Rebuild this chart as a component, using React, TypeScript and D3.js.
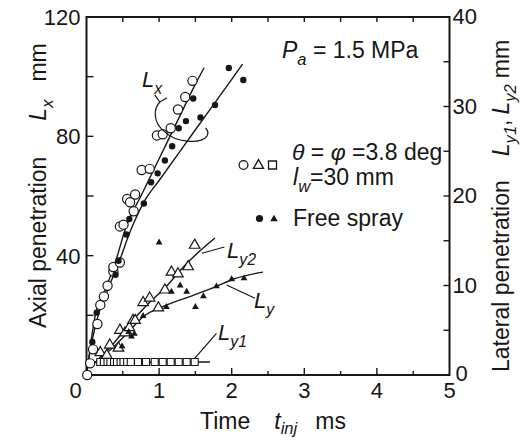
import React, { useEffect, useRef } from 'react';
import * as d3 from 'd3';

// Lx with wall (open circles): injection time ms / axial penetration mm
const wallLxT = [0.01, 0.05, 0.09, 0.15, 0.19, 0.24, 0.29, 0.37, 0.37, 0.46, 0.46, 0.51, 0.56, 0.6, 0.65, 0.67, 0.76, 0.87, 0.97, 1.05, 1.16, 1.26, 1.36, 1.46];
const wallLxV = [0, 3.9, 8.6, 17.1, 23.5, 26.3, 29.9, 34.7, 36.2, 37.7, 49.8, 50.4, 59, 57.9, 54.9, 60.5, 68.7, 69.1, 80.3, 80.7, 82.7, 89, 93.2, 98.6];

// Lx free spray (filled circles)
const freeLxT = [0.08, 0.14, 0.4, 0.44, 0.55, 0.59, 0.79, 0.89, 0.98, 1.08, 1.18, 1.27, 1.37, 1.47, 1.57, 1.77, 1.96, 2.16];
const freeLxV = [11.1, 20.9, 33.6, 38.3, 47.1, 52.3, 57.5, 64.6, 67.6, 71.9, 76.7, 82.7, 85.1, 92.7, 86.3, 90.5, 102.9, 98.9];

// Ly2 with wall (open triangles), lateral mm
const ly2T = [0.19, 0.28, 0.32, 0.44, 0.46, 0.53, 0.59, 0.64, 0.67, 0.78, 0.87, 0.99, 1.08, 1.17, 1.26, 1.4, 1.49];
const ly2V = [2.5, 2.2, 3.35, 3.0, 5.0, 4.7, 5.3, 6.1, 6.1, 8.1, 8.6, 7.5, 9.5, 11.5, 11.3, 12.1, 14.5];

// Ly free spray (filled triangles)
const lyT = [0.49, 0.58, 0.62, 0.66, 0.78, 1.0, 1.1, 1.17, 1.29, 1.38, 1.5, 1.61, 1.79, 2.0, 2.17];
const lyV = [3.2, 4.8, 4.3, 4.6, 6.6, 14.8, 7.6, 9.3, 10.0, 9.3, 7.6, 8.8, 9.9, 10.7, 10.8];

// Ly1 with wall (open squares)
const ly1T = [0.19, 0.24, 0.29, 0.33, 0.38, 0.42, 0.47, 0.51, 0.56, 0.61, 0.71, 0.82, 0.94, 1.05, 1.16, 1.27, 1.38, 1.49];
const ly1V = [1.45, 1.45, 1.45, 1.45, 1.45, 1.45, 1.45, 1.45, 1.45, 1.45, 1.45, 1.45, 1.45, 1.45, 1.45, 1.45, 1.45, 1.45];

// fitted curves [t, value]
const wallLxCurve = [[0, 0], [0.05, 9], [0.12, 20], [0.25, 28], [0.4, 38], [0.55, 50], [0.75, 60], [1.0, 72.5], [1.25, 85], [1.5, 97.5], [1.62, 103]];
const freeLxCurve = [[0, 0], [0.05, 8], [0.15, 19], [0.3, 29], [0.45, 38], [0.6, 48], [0.81, 58.8], [1.0, 65.2], [1.5, 82.2], [2.0, 99.1], [2.15, 104.2]];
const ly2Curve = [[0.12, 1.4], [0.24, 2.4], [0.37, 3.5], [0.56, 5.4], [0.83, 7.8], [1.1, 9.9], [1.36, 12.3], [1.77, 15.3]];
const lyCurve = [[0.12, 1.4], [0.42, 3.5], [0.6, 5.0], [0.78, 6.5], [1.1, 7.8], [1.47, 8.9], [1.79, 9.9], [2.02, 10.7], [2.43, 11.5]];
const ly1Curve = [[0.1, 1.45], [1.7, 1.45]];

const xTicks = [0, 1, 2, 3, 4, 5];
const leftTicks = [40, 80, 120];
const rightTicks = [10, 20, 30, 40];

type Part = { s: string; it?: boolean; sub?: boolean; dx?: number };

function App() {
    const svgRef = useRef<SVGSVGElement>(null);

    useEffect(() => {
        const svg = d3.select(svgRef.current);
        svg.selectAll('*').remove();

        const x = d3.scaleLinear().domain([0, 5]).range([86.5, 449.5]);
        const yL = d3.scaleLinear().domain([0, 120]).range([375, 17]);
        const yR = d3.scaleLinear().domain([0, 40]).range([375, 17]);
        const ink = '#161616';

        // text with italic / subscript pieces
        const rich = (px: number, py: number, parts: Part[], size: number, rotate = 0, subShift = 0.3) => {
            const t = svg.append('text')
                .attr('x', px).attr('y', py)
                .attr('font-size', size).attr('fill', ink);
            if (rotate) t.attr('transform', `rotate(${rotate},${px},${py})`);
            let shift = 0;
            parts.forEach(p => {
                const ts = t.append('tspan').text(p.s);
                const target = p.sub ? size * subShift : 0;
                if (target !== shift) { ts.attr('dy', target - shift); shift = target; }
                if (p.dx) ts.attr('dx', p.dx);
                if (p.sub) ts.attr('font-size', size * 0.72);
                if (p.it) ts.attr('font-style', 'italic');
            });
            return t;
        };

        // frame
        svg.append('rect')
            .attr('x', x(0)).attr('y', yL(120))
            .attr('width', x(5) - x(0)).attr('height', yL(0) - yL(120))
            .attr('fill', 'none').attr('stroke', ink).attr('stroke-width', 2);

        // ticks, all pointing inward
        const tk = svg.append('g').attr('stroke', ink).attr('stroke-width', 1.4);
        d3.range(0.5, 5, 0.5).forEach(t => {
            const major = Number.isInteger(t);
            tk.append('line').attr('x1', x(t)).attr('x2', x(t))
                .attr('y1', yL(0)).attr('y2', yL(0) - (major ? 7 : 4));
            tk.append('line').attr('x1', x(t)).attr('x2', x(t))
                .attr('y1', yL(120)).attr('y2', yL(120) + 5);
        });
        d3.range(20, 120, 20).forEach(v => {
            tk.append('line').attr('x1', x(0)).attr('x2', x(0) + 7).attr('y1', yL(v)).attr('y2', yL(v));
        });
        d3.range(5, 40, 5).forEach(v => {
            tk.append('line').attr('x1', x(5)).attr('x2', x(5) - 6).attr('y1', yR(v)).attr('y2', yR(v));
        });

        // tick labels
        const lab = svg.append('g').attr('font-size', 22).attr('fill', ink);
        xTicks.filter(t => t > 0).forEach(t => {
            lab.append('text').attr('x', x(t)).attr('y', yL(0) + 23).attr('text-anchor', 'middle').text(t);
        });
        lab.append('text').attr('x', x(0) - 11).attr('y', yL(0) + 23).attr('text-anchor', 'middle').text('0');
        leftTicks.forEach(v => {
            lab.append('text').attr('x', x(0) - 6).attr('y', yL(v) + 8).attr('text-anchor', 'end').text(v);
        });
        rightTicks.forEach(v => {
            lab.append('text').attr('x', x(5) + 3).attr('y', yR(v) + 7).text(v);
        });
        lab.append('text').attr('x', x(5) + 6).attr('y', yR(0) + 6).text('0');

        // axis titles
        rich(46, 328, [{ s: 'Axial penetration' }, { s: 'L', it: true, dx: 36 }, { s: 'x', it: true, sub: true }, { s: 'mm', dx: 18 }], 23, -90);
        rich(509, 372, [{ s: 'Lateral penetration' }, { s: 'L', it: true, dx: 24 }, { s: 'y1', it: true, sub: true }, { s: ',' }, { s: 'L', it: true, dx: 5 }, { s: 'y2', it: true, sub: true }, { s: 'mm', dx: 6 }], 23, -90);
        rich(200, 429, [{ s: 'Time' }, { s: 't', it: true, dx: 24 }, { s: 'inj', it: true, sub: true }, { s: 'ms', dx: 18 }], 23, 0, 0.22);

        // curves
        const lineL = d3.line<number[]>().x(d => x(d[0])).y(d => yL(d[1])).curve(d3.curveMonotoneX);
        const lineR = d3.line<number[]>().x(d => x(d[0])).y(d => yR(d[1])).curve(d3.curveMonotoneX);
        const curves = svg.append('g').attr('fill', 'none').attr('stroke', ink).attr('stroke-width', 1.4);
        curves.append('path').attr('d', lineL(wallLxCurve));
        curves.append('path').attr('d', lineL(freeLxCurve));
        curves.append('path').attr('d', lineR(ly2Curve));
        curves.append('path').attr('d', lineR(lyCurve));
        curves.append('path').attr('d', lineR(ly1Curve));

        // markers
        const sym = (type: d3.SymbolType, size: number) => d3.symbol().type(type).size(size)();
        const marks = svg.append('g');
        marks.selectAll('.sq').data(ly1T).enter().append('path')
            .attr('d', sym(d3.symbolSquare, 50))
            .attr('transform', (d, i) => `translate(${x(d)},${yR(ly1V[i])})`)
            .attr('fill', '#fff').attr('stroke', ink).attr('stroke-width', 1.1);
        marks.selectAll('.otri').data(ly2T).enter().append('path')
            .attr('d', sym(d3.symbolTriangle, 48))
            .attr('transform', (d, i) => `translate(${x(d)},${yR(ly2V[i])})`)
            .attr('fill', '#fff').attr('stroke', ink).attr('stroke-width', 1.2);
        marks.selectAll('.ftri').data(lyT).enter().append('path')
            .attr('d', sym(d3.symbolTriangle, 20))
            .attr('transform', (d, i) => `translate(${x(d)},${yR(lyV[i])})`)
            .attr('fill', ink);
        marks.selectAll('.ocir').data(wallLxT).enter().append('circle')
            .attr('cx', d => x(d)).attr('cy', (d, i) => yL(wallLxV[i])).attr('r', 4.6)
            .attr('fill', '#fff').attr('stroke', ink).attr('stroke-width', 1.2);
        marks.selectAll('.fcir').data(freeLxT).enter().append('circle')
            .attr('cx', d => x(d)).attr('cy', (d, i) => yL(freeLxV[i])).attr('r', 3.2)
            .attr('fill', ink);

        // annotations: leader lines in data units
        const ann = svg.append('g').attr('fill', 'none').attr('stroke', ink).attr('stroke-width', 1.2);
        const pL = (t: number, v: number) => `${x(t)},${yL(v)}`;
        const pR = (t: number, v: number) => `${x(t)},${yR(v)}`;
        ann.append('path').attr('d', `M${pR(1.9, 14.3)}L${pR(1.59, 13.6)}`);
        ann.append('path').attr('d', `M${pR(1.93, 10.06)}L${pR(2.32, 8.57)}`);
        ann.append('path').attr('d', `M${pR(1.79, 4.66)}L${pR(1.49, 1.86)}`);
        ann.append('path').attr('d',
            `M${pL(0.94, 93.9)}L${pL(1.01, 91.5)}L${pL(1.11, 92.9)}` +
            `M${pL(1.01, 91.5)}C${pL(0.93, 89.5)} ${pL(0.9, 84.8)} ${pL(1.08, 81.5)}` +
            `C${pL(1.22, 78.1)} ${pL(1.56, 77.1)} ${pL(1.66, 80.1)}` +
            `C${pL(1.68, 81.1)} ${pL(1.67, 82.1)} ${pL(1.64, 82.8)}`);

        rich(142, 87, [{ s: 'L', it: true }, { s: 'x', it: true, sub: true }], 22);
        rich(227, 258, [{ s: 'L', it: true }, { s: 'y2', it: true, sub: true }], 22);
        rich(254, 308, [{ s: 'L', it: true }, { s: 'y', it: true, sub: true }], 22);
        rich(218, 340, [{ s: 'L', it: true }, { s: 'y1', it: true, sub: true }], 22);

        // condition notes and legend
        rich(282, 58, [{ s: 'P', it: true }, { s: 'a', it: true, sub: true }, { s: ' = 1.5 MPa' }], 23);
        rich(292, 160, [{ s: 'θ', it: true }, { s: ' = ' }, { s: 'φ', it: true }, { s: ' =3.8 deg' }], 23);
        rich(293, 185, [{ s: 'l', it: true }, { s: 'w', it: true, sub: true }, { s: '=30 mm' }], 23);
        rich(293, 226, [{ s: 'Free spray' }], 23);

        const leg = svg.append('g');
        leg.append('circle').attr('cx', 243.5).attr('cy', 165).attr('r', 4.4)
            .attr('fill', '#fff').attr('stroke', ink).attr('stroke-width', 1.3);
        leg.append('path').attr('d', sym(d3.symbolTriangle, 45)).attr('transform', 'translate(258.5,165.5)')
            .attr('fill', '#fff').attr('stroke', ink).attr('stroke-width', 1.3);
        leg.append('path').attr('d', sym(d3.symbolSquare, 64)).attr('transform', 'translate(272.5,165)')
            .attr('fill', '#fff').attr('stroke', ink).attr('stroke-width', 1.3);
        leg.append('circle').attr('cx', 259.5).attr('cy', 218.5).attr('r', 3.6).attr('fill', ink);
        leg.append('path').attr('d', sym(d3.symbolTriangle, 24)).attr('transform', 'translate(274,219)').attr('fill', ink);
    }, []);

    return (
        <svg
            ref={svgRef}
            width={524}
            height={441}
            style={{ position: 'absolute', left: 0, top: 0, background: '#fff' }}
            fontFamily="'Liberation Sans', Arial, Helvetica, sans-serif"
        />
    );
}

export default App;
